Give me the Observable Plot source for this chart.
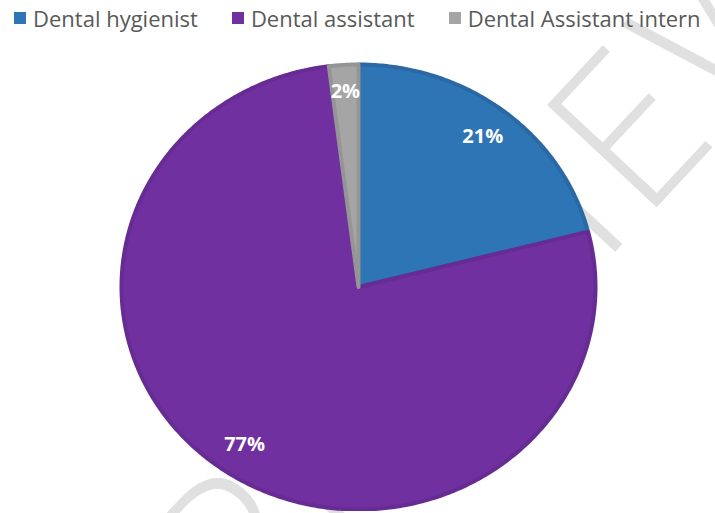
<!DOCTYPE html>
<html>
<head>
<meta charset="utf-8">
<script src="https://cdn.jsdelivr.net/npm/d3@7"></script>
<script src="https://cdn.jsdelivr.net/npm/@observablehq/plot@0.6"></script>
<style>
  html, body { margin: 0; padding: 0; background: #fff; }
  #wrap { position: relative; width: 715px; height: 513px; overflow: hidden; font-family: "Open Sans", sans-serif; }
  #legend { position: relative; height: 40px; display: flex; align-items: center; padding-left: 14px; font-size: 22px; color: #595959; z-index: 2; margin-top: -2px; }
  .item { display: flex; align-items: center; margin-right: 34px; white-space: nowrap; }
  .sw { width: 12px; height: 12px; margin-right: 7px; }
  #wm { position: absolute; left: 495px; top: 262px; transform: translate(-50%, -50%) rotate(-47deg); font-family: "Open Sans", sans-serif; font-weight: 300; font-size: 210px; letter-spacing: 8px; color: #e0e0e0; z-index: 0; white-space: nowrap; }
  #chart { position: relative; z-index: 1; margin-top: 4px; }
</style>
</head>
<body>
<div id="wrap">
  <div id="wm">PREVIEW</div>
  <div id="legend"></div>
  <div id="chart"></div>
</div>
<script>
const categories = ["Dental hygienist", "Dental assistant", "Dental Assistant intern"];
const values = [21, 77, 2];
const labels = ["21%", "77%", "2%"];
const fills = ["#2E75B6", "#7030A0", "#A5A5A5"];
const strokes = ["#2A69A3", "#672C93", "#959595"];

// legend
const legend = document.getElementById("legend");
categories.forEach((c, i) => {
  const it = document.createElement("div");
  it.className = "item";
  it.innerHTML = `<span class="sw" style="background:${fills[i]}"></span><span>${c}</span>`;
  legend.appendChild(it);
});

// pie geometry from data
const pie = d3.pie().sort(null).value(d => d)(values);
const outline = [];
pie.forEach((p, i) => {
  const n = Math.max(4, Math.ceil((p.endAngle - p.startAngle) / 0.01));
  outline.push({k: i, x: 0, y: 0});
  for (let j = 0; j <= n; j++) {
    const a = p.startAngle + (p.endAngle - p.startAngle) * j / n;
    outline.push({k: i, x: Math.sin(a), y: Math.cos(a)});
  }
  outline.push({k: i, x: 0, y: 0});
});
const labelPts = pie.map((p, i) => {
  const a = (p.startAngle + p.endAngle) / 2;
  const r = i === 2 ? 0.88 : 0.855;
  return {x: r * Math.sin(a), y: r * Math.cos(a), t: labels[i]};
});

const H = 469;
const plot = Plot.plot({
  width: 715,
  height: H,
  margin: 0,
  x: {domain: [-1, 1], range: [121, 595], axis: null},
  y: {domain: [-1, 1], range: [467, 22], axis: null},
  style: {background: "transparent"},
  marks: [
    Plot.line(outline, {x: "x", y: "y", z: "k", fill: d => fills[d.k], stroke: d => strokes[d.k], strokeWidth: 4, curve: "linear"}),
    Plot.text(labelPts, {x: "x", y: "y", text: "t", fill: "white", fontSize: 20, fontWeight: "bold", fontFamily: "'Open Sans', sans-serif"})
  ]
});
document.getElementById("chart").appendChild(plot);
</script>
</body>
</html>
